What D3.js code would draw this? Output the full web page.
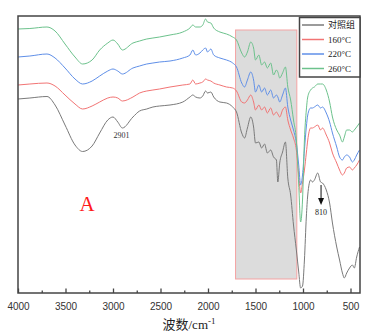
<!DOCTYPE html>
<html>
<head>
<meta charset="utf-8">
<script src="https://cdn.jsdelivr.net/npm/d3@7"></script>
<style>
  html, body { margin: 0; padding: 0; background: #fff; }
  svg { display: block; }
</style>
</head>
<body>
<svg id="chart" width="379" height="336"></svg>
<script>
// FTIR spectra: wavenumber grid (cm-1) and transmittance (a.u., stacked with offsets)
const wavenumbers = [4000,3875,3695,3610,3505,3400,3320,3220,3140,3055,
  3000,2950,2901,2790,2720,2645,2580,2510,2400,2265,
  2190,2160,2130,2085,2055,2025,2005,1970,1940,1875,
  1805,1740,1700,1645,1615,1585,1550,1520,1500,1465,
  1435,1405,1375,1340,1310,1280,1265,1245,1215,1185,
  1160,1130,1100,1070,1045,1025,1005,985,965,950,
  920,900,880,845,815,795,755,720,690,645,
  615,585,565,540,510,480,460,435,405];

const control = [194,195,196.5,188,168,148,141.5,147,160,173,
  176,171,165,176,182,184,186,187,188,191,
  196,198,196,195,197,202,200,201,196,191,
  190,186,181,160,155,165,176,166,150,151,
  145,149,140,143,136,133,111,130,141,151,
  115,98,68,43,21,5,7,33,76,98,
  113,111,113,120,111,110,103,90,70,46,
  33,20,15,20,25,28,25,36,46];

const t160 = [208,209,210,207,198,189,184,187,191,195,
  196,195,192,196,200,202,203,204,206,208,
  209,213,209,210,211,214,213,212,210,208,
  206,205,202,191,190,193,198,191,183,188,
  183,186,180,185,178,181,179,176,183,186,
  173,163,155,143,118,100,110,123,140,153,
  165,165,166,168,163,165,158,150,140,130,
  123,118,120,125,126,123,125,128,133];

const t220 = [236,237,239,235,225,214,209,212,217,222,
  224,222,219,225,227,229,230,231,232,235,
  238,243,238,240,243,245,241,244,238,235,
  233,230,226,210,206,213,221,213,201,208,
  201,205,198,203,195,198,196,191,198,205,
  186,173,163,150,128,108,118,143,166,178,
  185,185,186,188,185,186,180,171,160,146,
  136,133,136,138,136,131,133,138,143];

const t260 = [264,264.5,266,262,249,236,229,233,243,250,
  253,249,243,250,252,254,255,256,258,261,
  265,268,266,266,268,274,271,270,265,261,
  259,256,253,240,236,241,251,245,233,238,
  228,231,225,230,218,223,221,215,220,226,
  206,193,173,153,108,71,93,153,183,196,
  203,205,206,209,209,209,203,191,176,163,
  158,151,156,163,163,161,163,166,170];

const seriesNames = ["对照组", "160°C", "220°C", "260°C"];
const seriesColors = ["#7a7a7a", "#f27474", "#5f8fe8", "#6cc28c"];
const seriesValues = [control, t160, t220, t260];

const xTicks = [4000,3500,3000,2500,2000,1500,1000,500];
const xMinorTicks = [3750,3250,2750,2250,1750,1250,750];
const bandRange = [1710, 1065];   // highlighted fingerprint region
const bandLevels = [263, 14];     // top / bottom of highlight, a.u.

const svg = d3.select("#chart");
const margin = { left: 18, right: 19, top: 16, bottom: 43 };
const W = 379, H = 336;

const x = d3.scaleLinear().domain([4000, 400]).range([margin.left, W - margin.right]);
const y = d3.scaleLinear().domain([0, 277]).range([H - margin.bottom, margin.top]);

// highlighted band
svg.append("rect")
  .attr("x", x(bandRange[0])).attr("y", y(bandLevels[0]))
  .attr("width", x(bandRange[1]) - x(bandRange[0]))
  .attr("height", y(bandLevels[1]) - y(bandLevels[0]))
  .attr("fill", "#dcdcdc").attr("stroke", "#f4a3a3").attr("stroke-width", 1);

// spectra
const line = d3.line()
  .x(d => x(d[0])).y(d => y(d[1]))
  .curve(d3.curveMonotoneX);

seriesValues.forEach((vals, i) => {
  svg.append("path")
    .datum(wavenumbers.map((w, k) => [w, vals[k]]))
    .attr("d", line)
    .attr("fill", "none")
    .attr("stroke", seriesColors[i])
    .attr("stroke-width", 1);
});

// frame
const frameColor = "#444";
svg.append("rect")
  .attr("x", margin.left).attr("y", margin.top)
  .attr("width", W - margin.right - margin.left)
  .attr("height", H - margin.bottom - margin.top)
  .attr("fill", "none").attr("stroke", frameColor).attr("stroke-width", 1.5);

// bottom axis with inward ticks
const xAxis = d3.axisBottom(x).tickValues(xTicks).tickFormat(d3.format("d"))
  .tickSizeInner(-4.5).tickSizeOuter(0).tickPadding(10);
const gx = svg.append("g").attr("transform", `translate(0,${H - margin.bottom})`).call(xAxis);
gx.select(".domain").remove();
gx.selectAll(".tick line").attr("stroke", frameColor).attr("stroke-width", 1.3);
gx.selectAll(".tick text")
  .attr("font-family", "'Liberation Sans', Arial, sans-serif")
  .attr("font-size", 10).attr("fill", "#333");

const xMinor = d3.axisBottom(x).tickValues(xMinorTicks).tickSizeInner(-2.5).tickSizeOuter(0).tickFormat("");
const gm = svg.append("g").attr("transform", `translate(0,${H - margin.bottom})`).call(xMinor);
gm.select(".domain").remove();
gm.selectAll(".tick line").attr("stroke", frameColor).attr("stroke-width", 1.3);

// axis title
const title = svg.append("text")
  .attr("x", 189).attr("y", 329)
  .attr("text-anchor", "middle")
  .attr("font-family", "'Liberation Serif', 'Noto Sans CJK SC', serif")
  .attr("font-size", 13).attr("fill", "#222");
title.append("tspan").text("波数/cm");
title.append("tspan").attr("dy", -5).attr("font-size", 9).text("-1");

// annotations
svg.append("text")
  .attr("x", x(2901) - 1).attr("y", 138)
  .attr("text-anchor", "middle")
  .attr("font-family", "'Liberation Serif', serif")
  .attr("font-size", 8).attr("fill", "#333").text("2901");

svg.append("text")
  .attr("x", 87).attr("y", 211)
  .attr("text-anchor", "middle")
  .attr("font-family", "'Liberation Serif', serif")
  .attr("font-size", 21).attr("fill", "#ff1a1a").text("A");

const ax = x(810);
svg.append("line")
  .attr("x1", ax).attr("x2", ax).attr("y1", 185).attr("y2", 199)
  .attr("stroke", "#111").attr("stroke-width", 1);
svg.append("path")
  .attr("d", `M${ax - 3},${198} L${ax + 3},${198} L${ax},${205} Z`)
  .attr("fill", "#111");
svg.append("text")
  .attr("x", ax).attr("y", 215)
  .attr("text-anchor", "middle")
  .attr("font-family", "'Liberation Serif', serif")
  .attr("font-size", 8).attr("fill", "#222").text("810");

// legend
const lg = svg.append("g");
lg.append("rect")
  .attr("x", 299.5).attr("y", 17.5).attr("width", 60.5).attr("height", 59.5)
  .attr("fill", "#fff").attr("stroke", frameColor).attr("stroke-width", 1.5);
seriesNames.forEach((name, i) => {
  const ly = 25 + i * 14.5;
  lg.append("line")
    .attr("x1", 302).attr("x2", 324).attr("y1", ly).attr("y2", ly)
    .attr("stroke", seriesColors[i]).attr("stroke-width", 1.5);
  lg.append("text")
    .attr("x", 328).attr("y", ly + 3.3)
    .attr("font-family", i === 0 ? "'Noto Sans CJK SC', sans-serif" : "'Liberation Serif', serif")
    .attr("font-size", 9).attr("fill", "#222").text(name);
});
</script>
</body>
</html>
